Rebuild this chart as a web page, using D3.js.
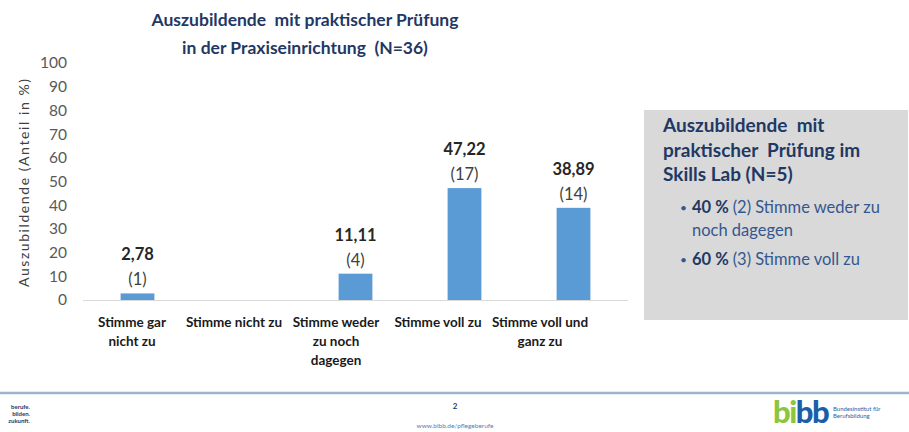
<!DOCTYPE html>
<html>
<head>
<meta charset="utf-8">
<script src="https://cdn.jsdelivr.net/npm/d3@7"></script>
<style>
  body { margin: 0; background: #fff; }
  svg { font-family: Lato, "Open Sans", sans-serif; display: block; }
</style>
</head>
<body>
<div id="chart"></div>
<script>
// data
var categories = ["Stimme gar\nnicht zu", "Stimme nicht zu", "Stimme weder\nzu noch\ndagegen", "Stimme voll zu", "Stimme voll und\nganz zu"];
var percents = [2.78, 0, 11.11, 47.22, 38.89];
var counts = [1, 0, 4, 17, 14];
var yTicks = [0, 10, 20, 30, 40, 50, 60, 70, 80, 90, 100];
var titleLines = ["Auszubildende  mit praktischer Prüfung", "in der Praxiseinrichtung  (N=36)"];
var boxTitle = ["Auszubildende  mit", "praktischer  Prüfung im", "Skills Lab (N=5)"];
var boxPercents = ["40 %", "60 %"];
var boxCounts = [2, 3];
var boxAnswers = [["Stimme weder zu", "noch dagegen"], ["Stimme voll zu"]];

var width = 909, height = 432;
var navy = "#1f3864";

var svg = d3.select("#chart").append("svg")
    .attr("width", width)
    .attr("height", height);

var x = d3.scaleBand().domain(d3.range(categories.length)).range([83, 628]).paddingInner(0.69).paddingOuter(0.345);
// the category labels sit a bit left of the bars on the slide
var xLab = d3.scalePoint().domain(d3.range(categories.length)).range([132, 540]);
var y = d3.scaleLinear().domain([0, 100]).range([300, 63]);

// title
svg.append("g").selectAll("text")
    .data(titleLines)
    .enter().append("text")
    .attr("x", 305)
    .attr("y", function(d, i) { return 26 + i * 28; })
    .attr("text-anchor", "middle")
    .attr("font-size", 17.5)
    .attr("font-weight", "bold")
    .attr("fill", navy)
    .style("white-space", "pre")
    .text(function(d) { return d; });

// y axis (labels only)
var yAxis = svg.append("g")
    .attr("transform", "translate(70,0)")
    .call(d3.axisLeft(y).tickValues(yTicks).tickSize(0).tickPadding(3));
yAxis.select(".domain").remove();
yAxis.selectAll("text").attr("font-size", 15.5).attr("fill", "#595959").attr("font-family", "Lato, sans-serif");

svg.append("text")
    .attr("transform", "translate(25,183) rotate(-90)")
    .attr("text-anchor", "middle")
    .attr("dominant-baseline", "middle")
    .attr("font-size", 14)
    .attr("textLength", 208)
    .attr("lengthAdjust", "spacing")
    .attr("fill", "#404040")
    .text("Auszubildende (Anteil in %)");

// baseline
svg.append("line")
    .attr("x1", 83).attr("x2", 628)
    .attr("y1", y(0) + 0.5).attr("y2", y(0) + 0.5)
    .attr("stroke", "#d9d9d9");

// bars
svg.selectAll(".bar")
    .data(percents)
    .enter().append("rect")
    .attr("class", "bar")
    .attr("x", function(d, i) { return x(i); })
    .attr("width", x.bandwidth())
    .attr("y", function(d) { return y(d); })
    .attr("height", function(d) { return y(0) - y(d); })
    .attr("fill", "#5b9bd5");

// value labels
var lab = svg.selectAll(".lab")
    .data(percents.map(function(p, i) { return {p: p, c: counts[i], i: i}; }).filter(function(d) { return d.c > 0; }))
    .enter().append("g")
    .attr("class", "lab");

lab.append("text")
    .attr("x", function(d) { return x(d.i) + x.bandwidth() / 2; })
    .attr("y", function(d) { return y(d.p) - 33; })
    .attr("text-anchor", "middle")
    .attr("font-size", 16.5)
    .attr("font-weight", "bold")
    .attr("fill", "#262626")
    .text(function(d) { return d3.format(".2f")(d.p).replace(".", ","); });

lab.append("text")
    .attr("x", function(d) { return x(d.i) + x.bandwidth() / 2; })
    .attr("y", function(d) { return y(d.p) - 8; })
    .attr("text-anchor", "middle")
    .attr("font-size", 16.5)
    .attr("fill", "#404040")
    .text(function(d) { return "(" + d.c + ")"; });

// category labels
var cat = svg.selectAll(".cat")
    .data(categories)
    .enter().append("text")
    .attr("class", "cat")
    .attr("text-anchor", "middle")
    .attr("font-size", 13.5)
    .attr("font-weight", "bold")
    .attr("fill", "#1a1a1a");
cat.each(function(d, i) {
    d3.select(this).selectAll("tspan")
        .data(d.split("\n"))
        .enter().append("tspan")
        .attr("x", xLab(i))
        .attr("y", function(t, j) { return 327 + j * 19; })
        .text(function(t) { return t; });
});

// grey box on the right
svg.append("rect")
    .attr("x", 644).attr("y", 110)
    .attr("width", 264).attr("height", 210)
    .attr("fill", "#d9d9d9");

svg.append("g").selectAll("text")
    .data(boxTitle)
    .enter().append("text")
    .attr("x", 663)
    .attr("y", function(d, i) { return 132 + i * 24.5; })
    .attr("font-size", 19)
    .attr("font-weight", "bold")
    .attr("fill", navy)
    .style("white-space", "pre")
    .text(function(d) { return d; });

var bulletY = [213, 265];
boxPercents.forEach(function(p, i) {
    var g = svg.append("g").attr("fill", "#34578f").attr("font-size", 16.5);
    g.append("text").attr("x", 680).attr("y", bulletY[i] - 1).attr("font-size", 12).text("•");
    var t = g.append("text").attr("x", 692).attr("y", bulletY[i]);
    t.append("tspan").attr("font-weight", "bold").attr("fill", navy).text(p + " ");
    t.append("tspan").text("(" + boxCounts[i] + ") " + boxAnswers[i][0]);
    if (boxAnswers[i][1]) {
        g.append("text").attr("x", 692).attr("y", bulletY[i] + 23).text(boxAnswers[i][1]);
    }
});

// footer
svg.append("line")
    .attr("x1", 0).attr("x2", width)
    .attr("y1", 393).attr("y2", 393)
    .attr("stroke", "#9fb3cc").attr("stroke-width", 2.5);

svg.append("text").attr("x", 455).attr("y", 409).attr("text-anchor", "middle")
    .attr("font-size", 8).attr("font-weight", "bold").attr("fill", "#1f3864").text("2");
svg.append("text").attr("x", 455).attr("y", 428).attr("text-anchor", "middle")
    .attr("font-size", 6.5).attr("fill", "#5a7db0").text("www.bibb.de/pflegeberufe");

svg.append("g").attr("font-size", 6).attr("font-weight", "bold").attr("fill", "#1f3864")
    .selectAll("text").data(["berufe.", "bilden.", "zukunft."]).enter().append("text")
    .attr("x", 30).attr("text-anchor", "end")
    .attr("y", function(d, i) { return 409 + i * 7; })
    .text(function(d) { return d; });

var logo = svg.append("text").attr("x", 773).attr("y", 423).attr("font-size", 31)
    .attr("font-weight", "900").attr("letter-spacing", -1.5);
logo.append("tspan").attr("fill", "#8cc63f").text("bi");
logo.append("tspan").attr("fill", "#1b5ea8").text("bb");
svg.append("g").attr("font-size", 6).attr("fill", "#1b5ea8")
    .selectAll("text").data(["Bundesinstitut für", "Berufsbildung"]).enter().append("text")
    .attr("x", 833)
    .attr("y", function(d, i) { return 411 + i * 7; })
    .text(function(d) { return d; });
</script>
</body>
</html>
